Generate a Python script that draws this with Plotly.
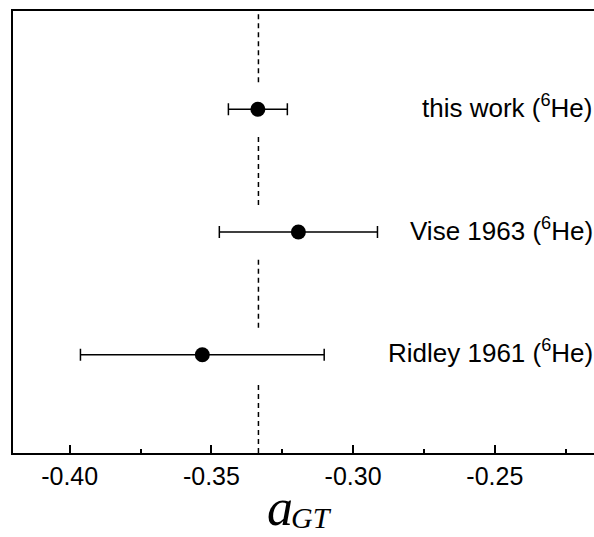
import plotly.graph_objects as go

# Data
labels = ["this work (<sup>6</sup>He)", "Vise 1963 (<sup>6</sup>He)", "Ridley 1961 (<sup>6</sup>He)"]
values = [-0.3336, -0.3193, -0.3532]
errors = [0.0104, 0.0279, 0.0430]
rows = [3, 2, 1]
ref_value = -0.3334
tick_vals = [-0.40, -0.35, -0.30, -0.25]
tick_text = ["-0.40", "-0.35", "-0.30", "-0.25"]

FONT = "Arial, Liberation Sans, sans-serif"
SERIF = "Times New Roman, Liberation Serif, serif"

fig = go.Figure()

# dashed reference line, broken around each row
gap = 0.22
edges = [0.2]
for r in sorted(rows):
    edges += [r - gap, r + gap]
edges.append(3.8)
seg_x, seg_y = [], []
for i in range(0, len(edges), 2):
    seg_x += [ref_value, ref_value, None]
    seg_y += [edges[i], edges[i + 1], None]
fig.add_trace(go.Scatter(x=seg_x, y=seg_y, mode="lines",
                         line=dict(color="black", width=1.5, dash="5px,4px"),
                         hoverinfo="skip", showlegend=False))

fig.add_trace(go.Scatter(
    x=values, y=rows, mode="markers",
    marker=dict(size=15, color="black"),
    error_x=dict(type="data", array=errors, visible=True, color="black",
                 thickness=1.5, width=6),
    showlegend=False))

for lab, r in zip(labels, rows):
    fig.add_annotation(x=1.002, xref="paper", y=r, yref="y", text=lab,
                       xanchor="right", yanchor="middle", showarrow=False,
                       yshift=3,
                       font=dict(family=FONT, size=26, color="black"))

fig.add_annotation(x=0.4596, xref="paper", y=-0.124, yref="paper",
                   text="<i>a</i>", showarrow=False, xanchor="center", yanchor="middle",
                   font=dict(family=SERIF, size=52, color="black"))
fig.add_annotation(x=0.513, xref="paper", y=-0.147, yref="paper",
                   text="<i>GT</i>", showarrow=False, xanchor="center", yanchor="middle",
                   font=dict(family=SERIF, size=30, color="black"))

fig.update_layout(
    width=594, height=537,
    margin=dict(l=13, r=0, t=11, b=84),
    paper_bgcolor="white", plot_bgcolor="white",
    xaxis=dict(range=[-0.42, -0.215], showgrid=False, zeroline=False,
               showline=True, linecolor="black", linewidth=1.5, mirror=True,
               ticks="inside", ticklen=8, tickwidth=1.5, tickcolor="black",
               tickvals=tick_vals, ticktext=tick_text,
               tickfont=dict(family=FONT, size=25, color="black"),
               minor=dict(dtick=0.025, tick0=-0.4, ticks="inside", ticklen=4,
                          tickwidth=1.5, tickcolor="black", showgrid=False)),
    yaxis=dict(range=[0.2, 3.8], showgrid=False, zeroline=False,
               showline=True, linecolor="black", linewidth=1.5, mirror=False,
               showticklabels=False, ticks=""),
)

fig.write_html("out.html")
